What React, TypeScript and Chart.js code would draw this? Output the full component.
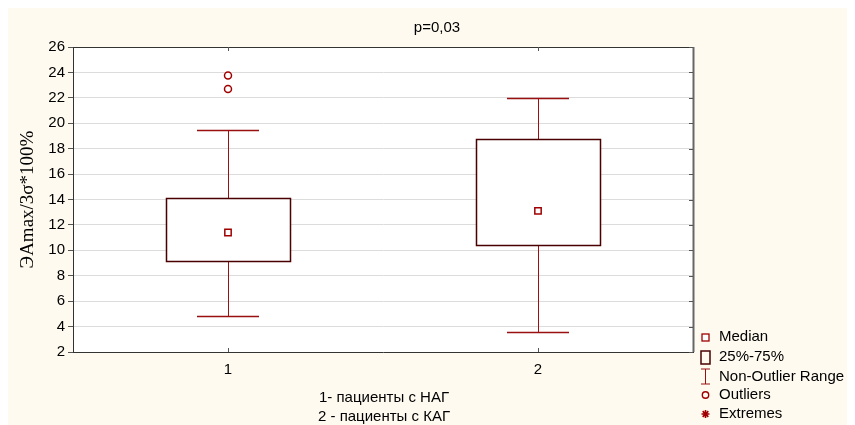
import React, { useEffect, useRef } from "react";
import { Chart, registerables } from "chart.js";
Chart.register(...registerables);

// ---- data ----
const categories = [1, 2];
const tickLabels = ["1", "2"];
const q1Values = [9.2, 10.45];
const q3Values = [14.15, 18.75];
const medianValues = [11.4, 13.1];
const whiskerLow = [4.85, 3.6];
const whiskerHigh = [19.5, 22.0];
const outlierValues = [[23.75, 22.7], []];
const yMin = 2;
const yMax = 26;
const yStep = 2;
const titleText = "p=0,03";
const yTitleText = "ЭAmax/3σ*100%";
const xNotes = ["1- пациенты с НАГ", "2 - пациенты с КАГ"];
const legendLabels = ["Median", "25%-75%", "Non-Outlier Range", "Outliers", "Extremes"];

const SANS = '"Liberation Sans", Arial, sans-serif';
const SERIF = '"Liberation Serif", "Times New Roman", serif';
const BG = "#FEFAF0";
const RED = "#A00000";
const WHISK = "#9A1010";
const BOX = "#4A0000";

const boxPlugin = {
  id: "boxPlugin",
  beforeDraw(chart: any) {
    const { ctx, chartArea } = chart;
    ctx.save();
    ctx.fillStyle = BG;
    ctx.fillRect(0, 0, chart.width, chart.height);
    ctx.fillStyle = "#ffffff";
    ctx.fillRect(chartArea.left, chartArea.top, chartArea.right - chartArea.left, chartArea.bottom - chartArea.top);
    ctx.restore();
  },
  beforeDatasetsDraw(chart: any) {
    const { ctx } = chart;
    const xs = chart.scales.x;
    const ys = chart.scales.y;
    ctx.save();
    categories.forEach((c, i) => {
      const cx = Math.round(xs.getPixelForValue(c)) + 0.5;
      const boxL = Math.round(xs.getPixelForValue(c - 0.2));
      const boxR = Math.round(xs.getPixelForValue(c + 0.2));
      const capL = Math.round(xs.getPixelForValue(c - 0.1));
      const capR = Math.round(xs.getPixelForValue(c + 0.1));
      const yq1 = Math.round(ys.getPixelForValue(q1Values[i]));
      const yq3 = Math.round(ys.getPixelForValue(q3Values[i]));
      const ylo = Math.round(ys.getPixelForValue(whiskerLow[i]));
      const yhi = Math.round(ys.getPixelForValue(whiskerHigh[i]));
      ctx.strokeStyle = WHISK;
      ctx.lineWidth = 1;
      ctx.beginPath();
      ctx.moveTo(cx, yhi);
      ctx.lineTo(cx, yq3);
      ctx.moveTo(cx, yq1);
      ctx.lineTo(cx, ylo);
      ctx.stroke();
      ctx.lineWidth = 1.5;
      ctx.beginPath();
      ctx.moveTo(capL, yhi + 0.5);
      ctx.lineTo(capR, yhi + 0.5);
      ctx.moveTo(capL, ylo + 0.5);
      ctx.lineTo(capR, ylo + 0.5);
      ctx.stroke();
      ctx.fillStyle = "#ffffff";
      ctx.fillRect(boxL, yq3, boxR - boxL, yq1 - yq3);
      ctx.strokeStyle = BOX;
      ctx.lineWidth = 1.5;
      ctx.strokeRect(boxL + 0.5, yq3 + 0.5, boxR - boxL, yq1 - yq3);
    });
    ctx.restore();
  },
  afterDraw(chart: any) {
    const { ctx, chartArea } = chart;
    const xs = chart.scales.x;
    const ys = chart.scales.y;
    ctx.save();
    // top and right frame
    ctx.strokeStyle = "#333";
    ctx.lineWidth = 1;
    ctx.beginPath();
    ctx.moveTo(chartArea.left, chartArea.top + 0.5);
    ctx.lineTo(chartArea.right, chartArea.top + 0.5);
    ctx.stroke();
    ctx.strokeStyle = "#666";
    ctx.lineWidth = 2;
    ctx.beginPath();
    ctx.moveTo(chartArea.right + 0.5, chartArea.top);
    ctx.lineTo(chartArea.right + 0.5, chartArea.bottom);
    ctx.stroke();
    // inner ticks on right axis
    ctx.lineWidth = 1;
    ctx.strokeStyle = "#555";
    ctx.beginPath();
    for (let v = yMin; v <= yMax; v += yStep) {
      const y = Math.round(ys.getPixelForValue(v)) + 0.5;
      ctx.moveTo(chartArea.right - 4, y);
      ctx.lineTo(chartArea.right, y);
    }
    // inner ticks on top / bottom for categories
    categories.forEach((c) => {
      const x = Math.round(xs.getPixelForValue(c)) + 0.5;
      ctx.moveTo(x, chartArea.top);
      ctx.lineTo(x, chartArea.top + 4);
      ctx.moveTo(x, chartArea.bottom);
      ctx.lineTo(x, chartArea.bottom - 4);
    });
    ctx.stroke();

    // title
    ctx.fillStyle = "#000";
    ctx.font = `15px ${SANS}`;
    ctx.textAlign = "center";
    ctx.textBaseline = "middle";
    ctx.fillText(titleText, 429, 20);

    // x notes
    const mid = (chartArea.left + chartArea.right) / 2 + 1;
    ctx.fillText(xNotes[0], mid, 390);
    ctx.fillText(xNotes[1], mid, 409);

    // y title
    ctx.save();
    ctx.translate(20, (chartArea.top + chartArea.bottom) / 2);
    ctx.rotate(-Math.PI / 2);
    ctx.font = `19px ${SERIF}`;
    ctx.fillText(yTitleText, 0, 0);
    ctx.restore();

    // legend
    const mx = 697;
    const tx = 711;
    const rows = [329, 349, 368.5, 387, 406];
    ctx.textAlign = "left";
    ctx.font = `15px ${SANS}`;
    legendLabels.forEach((lab, i) => {
      const y = rows[i];
      ctx.fillStyle = "#000";
      ctx.fillText(lab, tx, y);
      if (i === 0) {
        ctx.strokeStyle = RED;
        ctx.lineWidth = 1.3;
        ctx.fillStyle = "#fff";
        ctx.fillRect(mx - 3, y - 3, 7, 7);
        ctx.strokeRect(mx - 3, y - 3, 7, 7);
      } else if (i === 1) {
        ctx.strokeStyle = BOX;
        ctx.lineWidth = 1.5;
        ctx.strokeRect(mx - 4, y - 6, 9, 13);
      } else if (i === 2) {
        ctx.strokeStyle = WHISK;
        ctx.lineWidth = 1;
        ctx.beginPath();
        ctx.moveTo(mx - 4, y - 7.5);
        ctx.lineTo(mx + 5, y - 7.5);
        ctx.moveTo(mx + 0.5, y - 7.5);
        ctx.lineTo(mx + 0.5, y + 7.5);
        ctx.moveTo(mx - 4, y + 7.5);
        ctx.lineTo(mx + 5, y + 7.5);
        ctx.stroke();
      } else if (i === 3) {
        ctx.strokeStyle = RED;
        ctx.lineWidth = 1.4;
        ctx.beginPath();
        ctx.arc(mx + 0.5, y, 3.2, 0, Math.PI * 2);
        ctx.stroke();
      } else {
        ctx.strokeStyle = RED;
        ctx.lineWidth = 1.6;
        ctx.beginPath();
        for (let k = 0; k < 4; k++) {
          const a = (k * Math.PI) / 4;
          ctx.moveTo(mx + 0.5 - 4 * Math.cos(a), y - 4 * Math.sin(a));
          ctx.lineTo(mx + 0.5 + 4 * Math.cos(a), y + 4 * Math.sin(a));
        }
        ctx.stroke();
      }
    });
    ctx.restore();
  },
};

export default function App() {
  const ref = useRef<HTMLCanvasElement | null>(null);
  useEffect(() => {
    if (!ref.current) return;
    const medianData = categories.map((c, i) => ({ x: c, y: medianValues[i] }));
    const outlierData: { x: number; y: number }[] = [];
    categories.forEach((c, i) => outlierValues[i].forEach((v) => outlierData.push({ x: c, y: v })));
    const chart = new Chart(ref.current, {
      type: "scatter",
      data: {
        datasets: [
          {
            label: "Median",
            data: medianData,
            pointStyle: "rect",
            pointRadius: 4.5,
            borderColor: RED,
            backgroundColor: "#ffffff",
            borderWidth: 1.5,
          },
          {
            label: "Outliers",
            data: outlierData,
            pointStyle: "circle",
            pointRadius: 3.5,
            borderColor: RED,
            backgroundColor: "#ffffff",
            borderWidth: 1.5,
          },
        ],
      },
      options: {
        responsive: false,
        animation: false,
        devicePixelRatio: 1,
        layout: { padding: { left: 0, top: 39, right: 162, bottom: 0 } },
        plugins: { legend: { display: false }, title: { display: false }, tooltip: { enabled: false } },
        scales: {
          x: {
            type: "linear",
            min: 0.5,
            max: 2.5,
            afterBuildTicks: (s: any) => {
              s.ticks = categories.map((v) => ({ value: v }));
            },
            afterFit: (s: any) => {
              s.height = 73;
            },
            ticks: {
              color: "#000",
              font: { family: SANS, size: 15 },
              padding: 9,
              callback: (v: any) => {
                const idx = categories.indexOf(Number(v));
                return idx >= 0 ? tickLabels[idx] : "";
              },
            },
            grid: { drawOnChartArea: false, drawTicks: false },
            border: { color: "#333", width: 1 },
          },
          y: {
            min: yMin,
            max: yMax,
            afterFit: (s: any) => {
              s.width = 65;
            },
            ticks: {
              stepSize: yStep,
              color: "#000",
              font: { family: SANS, size: 15 },
              padding: 3,
            },
            grid: { color: "#dcdcdc", tickColor: "#555", tickLength: 5 },
            border: { color: "#333", width: 1 },
          },
        },
      },
      plugins: [boxPlugin],
    } as any);
    return () => chart.destroy();
  }, []);
  return (
    <div style={{ width: 847, height: 417 }}>
      <canvas ref={ref} width={847} height={417} style={{ display: "block" }} />
    </div>
  );
}
